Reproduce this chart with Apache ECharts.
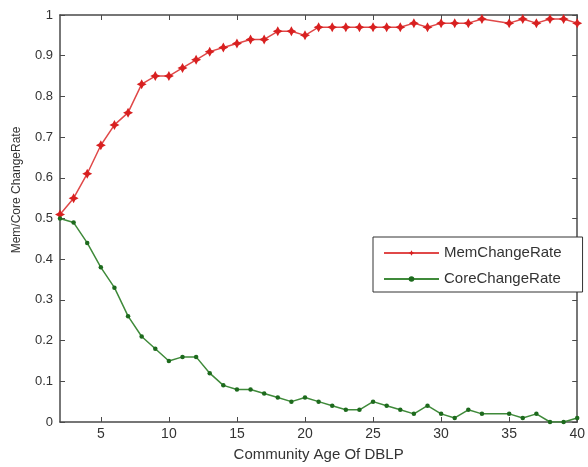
<!DOCTYPE html>
<html>
<head>
<meta charset="utf-8">
<script src="https://cdn.jsdelivr.net/npm/echarts@6/dist/echarts.min.js"></script>
<style>html,body{margin:0;padding:0;background:#fff;}#c{width:588px;height:467px;}</style>
</head>
<body>
<div id="c"></div>
<script>
// Community age (x = 34 has no data point in the reference)
var ages = [2,3,4,5,6,7,8,9,10,11,12,13,14,15,16,17,18,19,20,21,22,23,24,25,26,27,28,29,30,31,32,33,35,36,37,38,39,40];
var memChangeRate = [0.51,0.55,0.61,0.68,0.73,0.76,0.83,0.85,0.85,0.87,0.89,0.91,0.92,0.93,0.94,0.94,0.96,0.96,0.95,0.97,0.97,0.97,0.97,0.97,0.97,0.97,0.98,0.97,0.98,0.98,0.98,0.99,0.98,0.99,0.98,0.99,0.99,0.98];
var coreChangeRate = [0.50,0.49,0.44,0.38,0.33,0.26,0.21,0.18,0.15,0.16,0.16,0.12,0.09,0.08,0.08,0.07,0.06,0.05,0.06,0.05,0.04,0.03,0.03,0.05,0.04,0.03,0.02,0.04,0.02,0.01,0.03,0.02,0.02,0.01,0.02,0.00,0.00,0.01];
var xTicks = [5,10,15,20,25,30,35,40];
var seriesNames = ['MemChangeRate','CoreChangeRate'];

function pairs(xs, ys){ return xs.map(function(x,i){ return [x, ys[i]]; }); }

var axisColor = '#4a4a4a';
var font = 'Liberation Sans, Arial, sans-serif';
var star = 'path://M0,-10 L3.5,-3.5 L10,0 L3.5,3.5 L0,10 L-3.5,3.5 L-10,0 L-3.5,-3.5 Z';

var chart = echarts.init(document.getElementById('c'), null, {renderer:'canvas'});
chart.setOption({
  backgroundColor: '#ffffff',
  animation: false,
  grid: {left: 60, right: 10, top: 15, bottom: 42, containLabel: false},
  xAxis: [{
    type: 'value', min: 2, max: 40, position: 'bottom',
    name: 'Community Age Of DBLP', nameLocation: 'middle', nameGap: 25,
    nameTextStyle: {fontFamily: font, fontSize: 15, color: '#333'},
    axisLine: {show: true, onZero: false, lineStyle: {color: axisColor, width: 1.5}},
    axisTick: {show: true, inside: true, length: 5, customValues: xTicks, lineStyle: {color: axisColor}},
    axisLabel: {customValues: xTicks, fontFamily: font, fontSize: 14, color: '#333', margin: 5},
    splitLine: {show: false}
  },{
    type: 'value', min: 2, max: 40, position: 'top',
    axisLine: {show: true, onZero: false, lineStyle: {color: axisColor, width: 1.5}},
    axisTick: {show: true, inside: true, length: 5, customValues: xTicks, lineStyle: {color: axisColor}},
    axisLabel: {show: false}, splitLine: {show: false}
  }],
  yAxis: [{
    type: 'value', min: 0, max: 1, interval: 0.1, position: 'left',
    axisLine: {show: true, onZero: false, lineStyle: {color: axisColor, width: 1.5}},
    axisTick: {show: true, inside: true, length: 5, lineStyle: {color: axisColor}},
    axisLabel: {fontFamily: font, fontSize: 13, color: '#333', margin: 7,
      formatter: function(v){ return +v.toFixed(1) + ''; }},
    splitLine: {show: false}
  },{
    type: 'value', min: 0, max: 1, interval: 0.1, position: 'right',
    axisLine: {show: true, onZero: false, lineStyle: {color: axisColor, width: 1.5}},
    axisTick: {show: true, inside: true, length: 5, lineStyle: {color: axisColor}},
    axisLabel: {show: false}, splitLine: {show: false}
  }],
  legend: {
    show: true, orient: 'vertical', left: 373, top: 237,
    data: seriesNames,
    backgroundColor: '#fff', borderColor: '#333', borderWidth: 1, borderRadius: 0,
    padding: [8, 21, 5, 10], itemGap: 10, itemWidth: 55, itemHeight: 7,
    textStyle: {fontFamily: font, fontSize: 15, color: '#333', lineHeight: 16}
  },
  graphic: [{
    type: 'text', x: 17, y: 190, rotation: Math.PI/2,
    style: {text: 'Mem/Core ChangeRate', fontFamily: font, fontSize: 12, fill: '#333',
      textAlign: 'center', textVerticalAlign: 'middle'}
  }],
  series: [{
    name: seriesNames[0], type: 'line', xAxisIndex: 0, yAxisIndex: 0,
    data: pairs(ages, memChangeRate),
    symbol: star, symbolSize: 10, showAllSymbol: true,
    lineStyle: {color: '#e04848', width: 1.5},
    itemStyle: {color: '#d82020'}
  },{
    name: seriesNames[1], type: 'line', xAxisIndex: 0, yAxisIndex: 0,
    data: pairs(ages, coreChangeRate),
    symbol: 'circle', symbolSize: 4.5, showAllSymbol: true,
    lineStyle: {color: '#3f8a3a', width: 1.5},
    itemStyle: {color: '#1d6a1d'}
  }]
});
</script>
</body>
</html>
